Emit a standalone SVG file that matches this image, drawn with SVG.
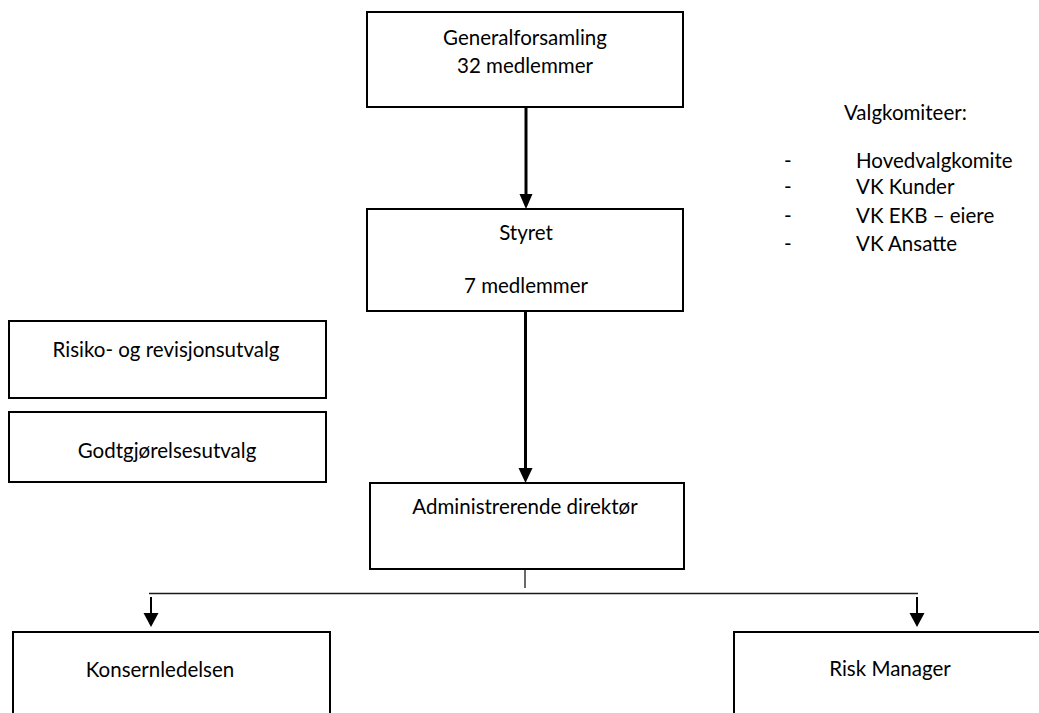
<svg xmlns="http://www.w3.org/2000/svg" width="1039" height="713" viewBox="0 0 1039 713">
<defs>
<style>
.box{fill:#fff;stroke:#000;stroke-width:2}
.open{fill:none;stroke:#000;stroke-width:2}
.t{font-family:Lato,"Liberation Sans",sans-serif;font-size:20.5px;fill:#000;text-anchor:middle}
.l{font-family:Lato,"Liberation Sans",sans-serif;font-size:20.5px;fill:#000}
.thick{stroke:#000;stroke-width:3;fill:none}
.thin{stroke:#000;stroke-width:2;fill:none}
.hair{stroke:#1a1a1a;stroke-width:1.3;fill:none}
.ah{fill:#000}
</style>
</defs>
<rect width="1039" height="713" fill="#fff"/>
<g id="connectors">
<line class="thick" x1="526" y1="107" x2="526" y2="195"/>
<polygon class="ah" points="519.5,194 532.5,194 526,209"/>
<line class="thick" x1="525.5" y1="311" x2="525.5" y2="469"/>
<polygon class="ah" points="518.5,468 532.5,468 525.5,483"/>
<line class="hair" x1="525" y1="569" x2="525" y2="588"/>
<line class="hair" x1="149" y1="593.5" x2="918" y2="593.5"/>
<line class="thin" x1="151" y1="597" x2="151" y2="614"/>
<polygon class="ah" points="143.5,613 158.5,613 151,627"/>
<line class="thin" x1="917" y1="597" x2="917" y2="614"/>
<polygon class="ah" points="909.5,613 924.5,613 917,627"/>
</g>
<g id="generalforsamling">
<rect class="box" x="367" y="12" width="316" height="95"/>
<text class="t" x="525" y="45">Generalforsamling</text>
<text class="t" x="525" y="73">32 medlemmer</text>
</g>
<g id="styret">
<rect class="box" x="367" y="209" width="316" height="102"/>
<text class="t" x="526" y="240">Styret</text>
<text class="t" x="526" y="293">7 medlemmer</text>
</g>
<g id="valgkomiteer">
<text class="l" x="844" y="120">Valgkomiteer:</text>
<text class="l" x="784" y="168">-</text>
<text class="l" x="856" y="168">Hovedvalgkomite</text>
<text class="l" x="784" y="194">-</text>
<text class="l" x="856" y="194">VK Kunder</text>
<text class="l" x="784" y="223">-</text>
<text class="l" x="856" y="223">VK EKB – eiere</text>
<text class="l" x="784" y="251">-</text>
<text class="l" x="856" y="251">VK Ansatte</text>
</g>
<g id="risiko">
<rect class="box" x="9" y="321" width="317" height="77"/>
<text class="t" x="166" y="357">Risiko- og revisjonsutvalg</text>
</g>
<g id="godtgjorelse">
<rect class="box" x="9" y="412" width="317" height="70"/>
<text class="t" x="167" y="458">Godtgjørelsesutvalg</text>
</g>
<g id="administrerende">
<rect class="box" x="370" y="483" width="314" height="86"/>
<text class="t" x="525" y="514">Administrerende direktør</text>
</g>
<g id="konsernledelsen">
<path class="open" d="M13,714 V632 H330 V714"/>
<text class="t" x="160" y="677">Konsernledelsen</text>
</g>
<g id="riskmanager">
<path class="open" d="M734,714 V632 H1040"/>
<text class="t" x="890" y="676">Risk Manager</text>
</g>
</svg>
